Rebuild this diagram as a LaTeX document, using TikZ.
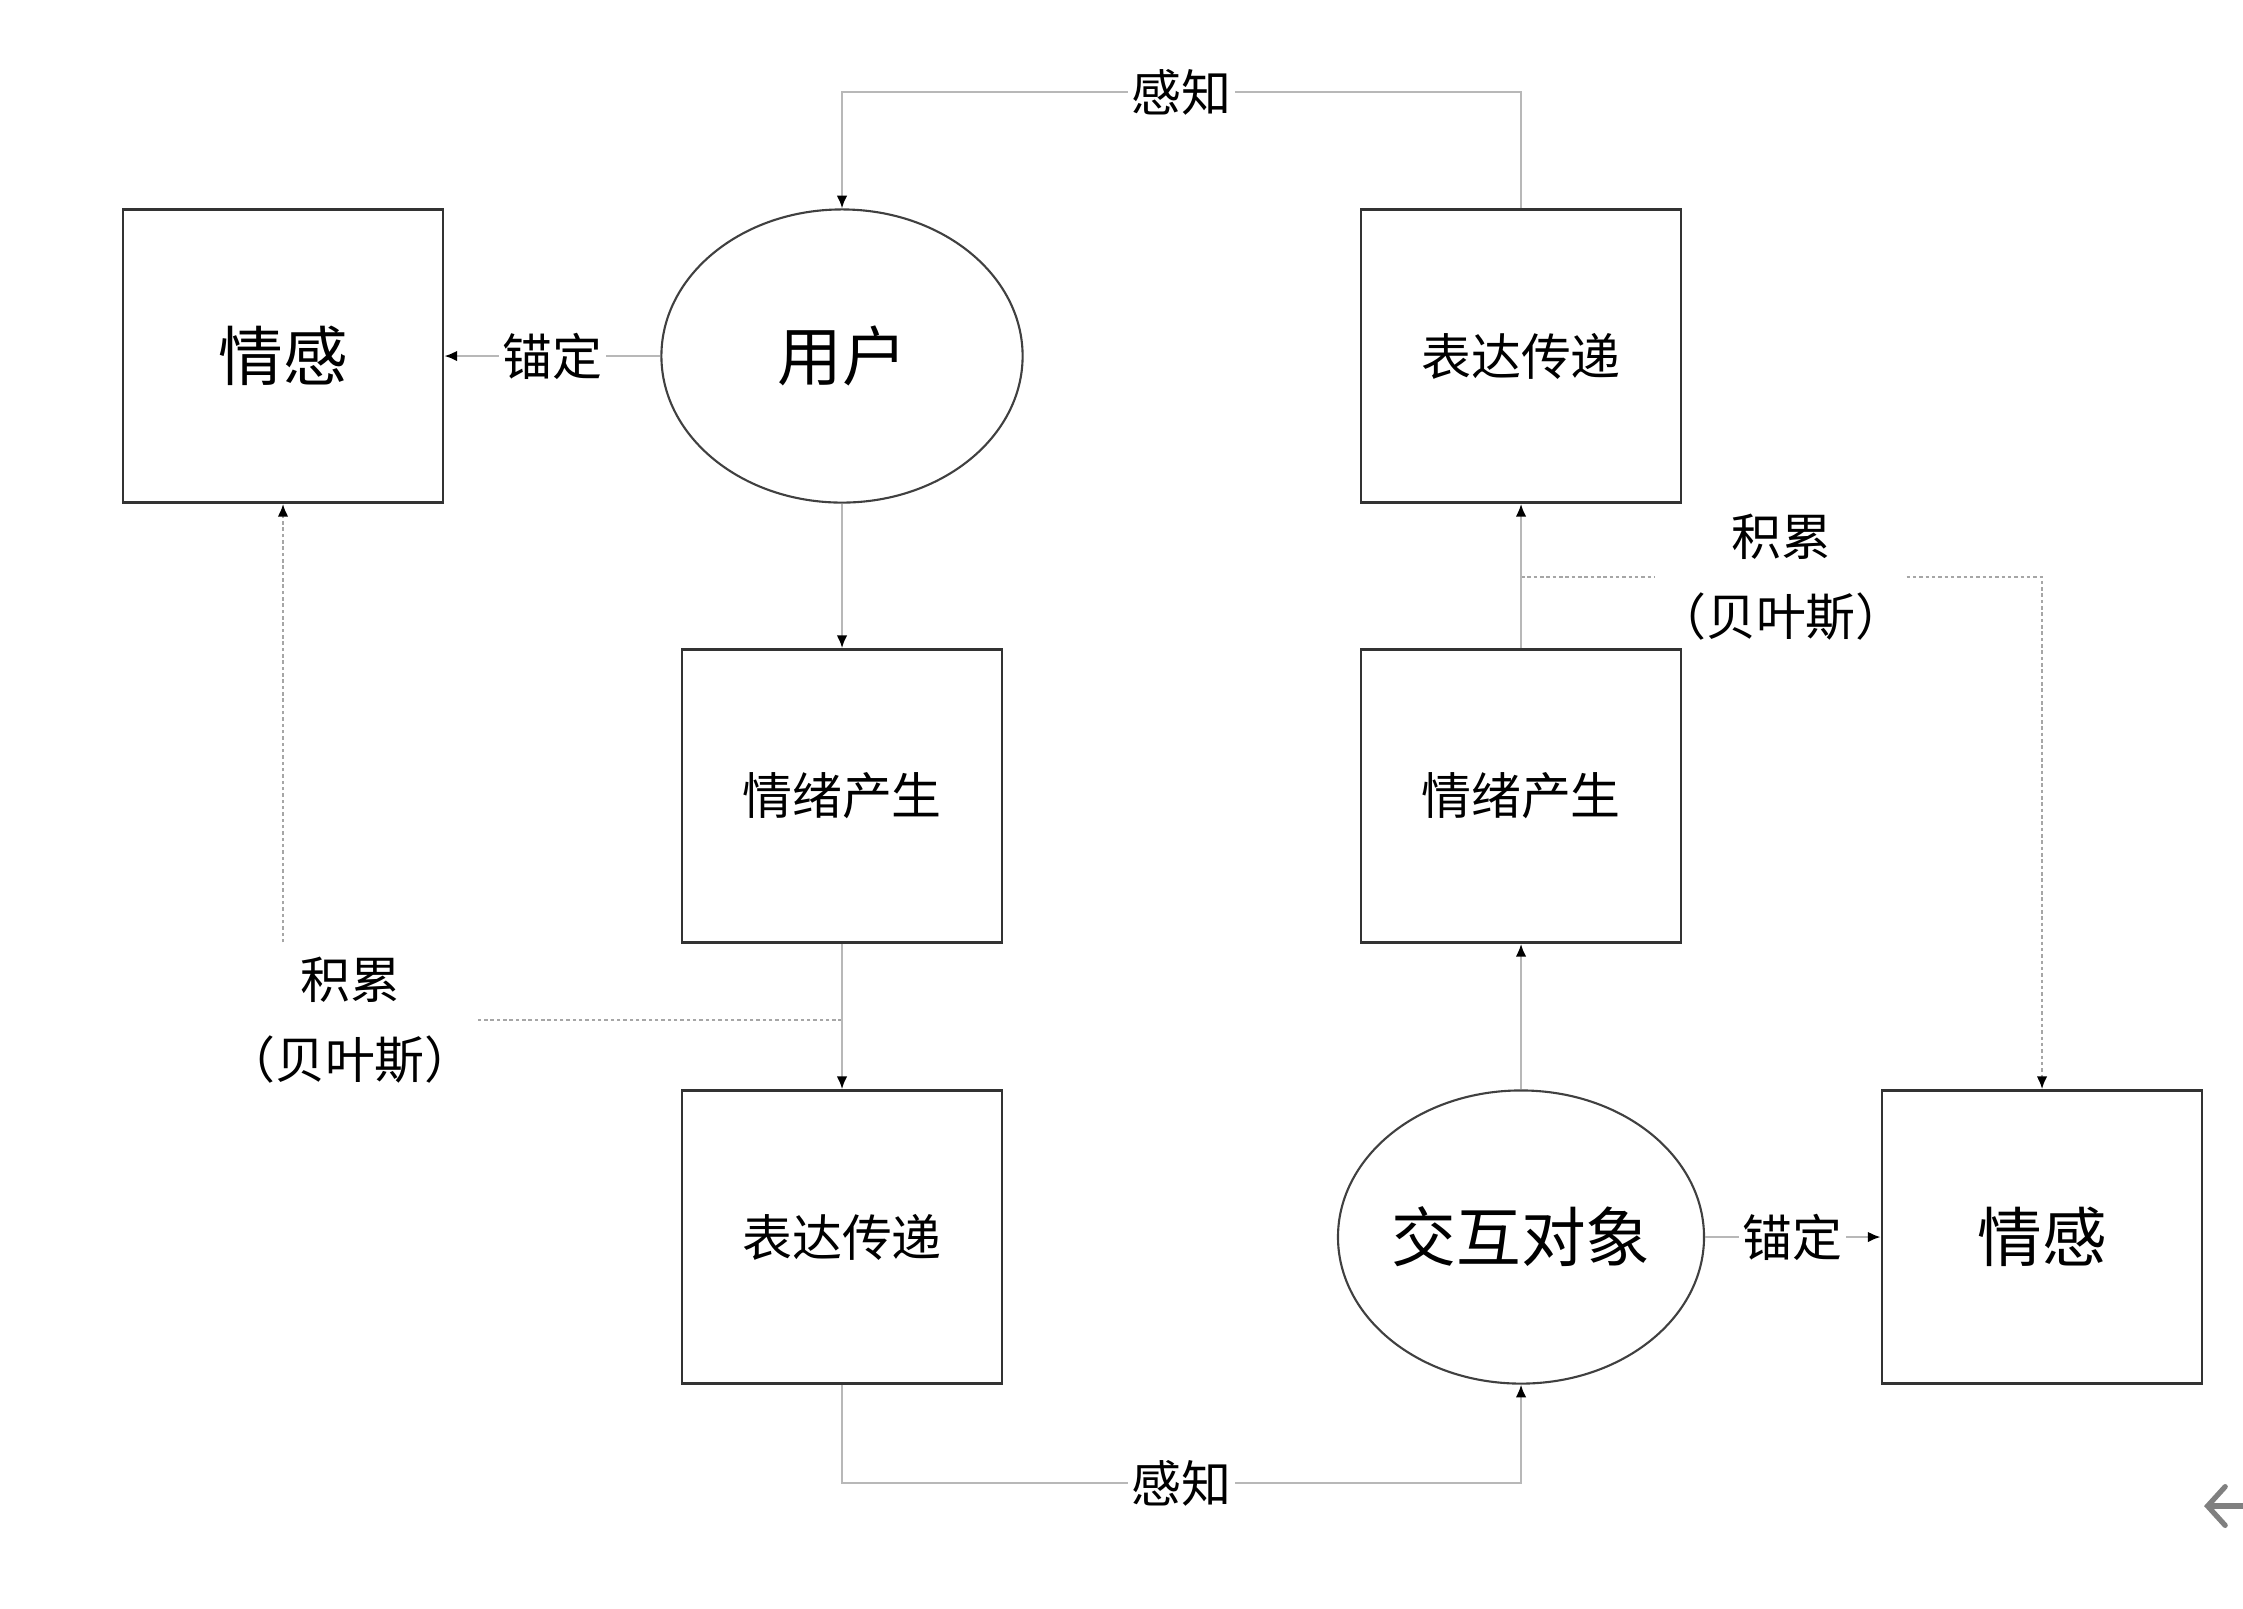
\documentclass[tikz,border=0pt]{standalone}
\usepackage{fontspec}
\newfontfamily\cjk{Noto Sans CJK SC}
\usetikzlibrary{shapes.geometric,arrows.meta}

\newcommand{\boxw}{3.2cm}
\newcommand{\boxh}{2.93cm}
\newcommand{\ellw}{3.61cm}
\newcommand{\smallcjk}{\cjk\fontsize{14.2}{22.6}\selectfont}
\newcommand{\bigcjk}{\cjk\fontsize{18.4}{22}\selectfont}

\begin{document}
\begin{tikzpicture}[x=0.01cm,y=-0.01cm,
	stage/.style={draw=black!80,line width=0.75pt,minimum width=\boxw,minimum height=\boxh,inner sep=0pt,font=\smallcjk},
	feel/.style={stage,font=\bigcjk},
	agent/.style={ellipse,draw=black!75,line width=0.6pt,minimum width=\ellw,minimum height=\boxh,inner sep=0pt,font=\bigcjk},
	lbl/.style={fill=white,inner xsep=1pt,inner ysep=0pt,font=\smallcjk},
	acc/.style={align=center,inner xsep=0pt,inner ysep=4pt,font=\smallcjk},
	link/.style={draw=black!28,line width=0.6pt,-{Latex[color=black,length=3.6pt,width=3pt]}},
	bayes/.style={draw=black!35,line width=0.6pt,dash pattern=on 1pt off 0.8pt}]
	\useasboundingbox (0,0) rectangle (2243,1608);
	%The user side
	\node[feel] (emoL) at (283,356) {情感};
	\node[agent] (user) at (842,356) {用户};
	\node[stage] (emo1) at (842,796) {情绪产生};
	\node[stage] (expr1) at (842,1237) {表达传递};
	%The partner side
	\node[stage] (expr2) at (1521,356) {表达传递};
	\node[stage] (emo2) at (1521,796) {情绪产生};
	\node[agent] (obj) at (1521,1237) {交互对象};
	\node[feel] (emoR) at (2042,1237) {情感};
	%The accumulation labels
	\node[acc] (accL) at (350,1020) {积累\\（贝叶斯）};
	\node[acc] (accR) at (1781,577) {积累\\（贝叶斯）};
	%Draw the dotted accumulation lines
	\draw[bayes] (emo1.south |- accL) -- (accL.east);
	\draw[bayes,-{Latex[color=black,length=3.6pt,width=3pt]}] (accL.north -| emoL.south) -- (emoL.south);
	\draw[bayes] (emo2.north |- accR) -- (accR.west);
	\draw[bayes,-{Latex[color=black,length=3.6pt,width=3pt]}] (accR.east) -| (emoR.north);
	%Draw the flow of the loop
	\draw[link] (user) -- (emo1);
	\draw[link] (emo1) -- (expr1);
	\draw[link] (expr1.south) -- ++(0,98) -| node[lbl,pos=0.25]{感知} (obj.south);
	\draw[link] (obj) -- (emo2);
	\draw[link] (emo2) -- (expr2);
	\draw[link] (expr2.north) -- ++(0,-116) -| node[lbl,pos=0.25]{感知} (user.north);
	%Draw the anchoring
	\draw[link] (user) -- node[lbl]{锚定} (emoL);
	\draw[link] (obj) -- node[lbl]{锚定} (emoR);
	%The arrow glyph at the edge
	\draw[black!50,line width=1.5pt,line cap=round,-{Straight Barb[length=5pt,width=11pt,line cap=round]}] (2262,1506) -- (2204,1506);
\end{tikzpicture}
\end{document}
